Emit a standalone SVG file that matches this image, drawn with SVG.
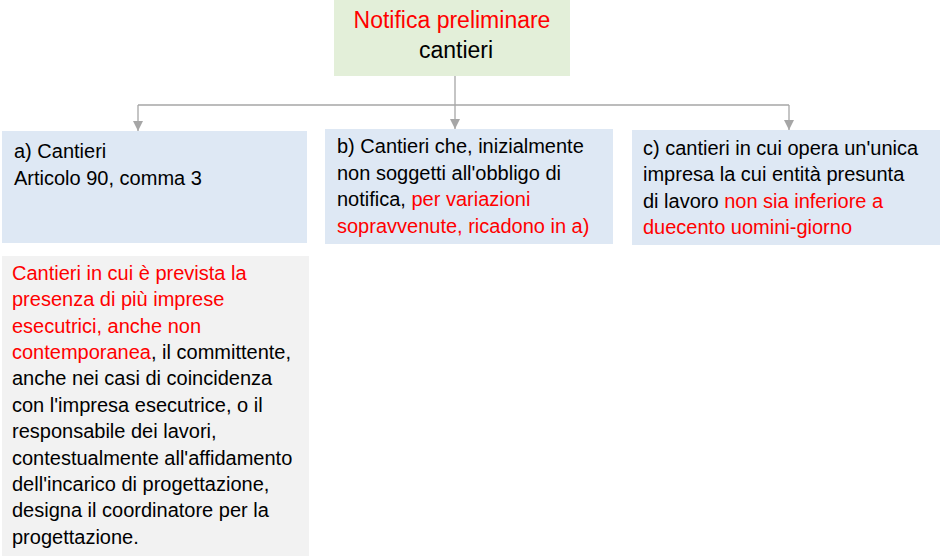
<svg xmlns="http://www.w3.org/2000/svg" width="943" height="558" viewBox="0 0 943 558">
<defs>
<marker id="arr" viewBox="0 0 10 10" refX="10" refY="5" markerWidth="10" markerHeight="10" markerUnits="userSpaceOnUse" orient="auto">
<path d="M0,0 L10,5 L0,10 z" fill="#a6a6a6"/>
</marker>
</defs>
<style>
text{font-family:"Liberation Sans",Arial,sans-serif;font-size:20px;fill:#000}
.r{fill:#ff0000}
.blue{fill:#dee8f4}
.green{fill:#e3efd9}
.grey{fill:#f2f2f2}
.ln{stroke:#a6a6a6;stroke-width:1.3;fill:none}
</style>
<rect width="943" height="558" fill="#fff"/>
<g id="connectors">
<path class="ln" d="M455,76 V105"/>
<path class="ln" d="M138,105 H789"/>
<path class="ln" d="M138,105 V131" marker-end="url(#arr)"/>
<path class="ln" d="M455,105 V129" marker-end="url(#arr)"/>
<path class="ln" d="M789,105 V130" marker-end="url(#arr)"/>
</g>
<g id="top">
<rect class="green" x="334" y="0" width="236" height="76"/>
<text x="452" y="28" text-anchor="middle" class="r" style="font-size:23px">Notifica preliminare</text>
<text x="456" y="58" text-anchor="middle" style="font-size:23px">cantieri</text>
</g>
<g id="a">
<rect class="blue" x="2" y="131" width="305" height="112"/>
<text x="14" y="158">a) Cantieri</text>
<text x="14" y="185">Articolo 90, comma 3</text>
</g>
<g id="b">
<rect class="blue" x="325" y="129" width="288" height="115"/>
<text x="337" y="153">b) Cantieri che, inizialmente</text>
<text x="337" y="180">non soggetti all'obbligo di</text>
<text x="337" y="206">notifica, <tspan class="r">per variazioni</tspan></text>
<text x="337" y="233" class="r">sopravvenute, ricadono in a)</text>
</g>
<g id="c">
<rect class="blue" x="632" y="130" width="308" height="115"/>
<text x="643" y="155">c) cantieri in cui opera un'unica</text>
<text x="643" y="181">impresa la cui entità presunta</text>
<text x="643" y="208">di lavoro <tspan class="r">non sia inferiore a</tspan></text>
<text x="643" y="234" class="r">duecento uomini-giorno</text>
</g>
<g id="d">
<rect class="grey" x="2" y="256" width="307" height="300"/>
<text x="12" y="280" class="r">Cantieri in cui è prevista la</text>
<text x="12" y="306" class="r">presenza di più imprese</text>
<text x="12" y="333" class="r">esecutrici, anche non</text>
<text x="12" y="359"><tspan class="r">contemporanea</tspan>, il committente,</text>
<text x="12" y="385">anche nei casi di coincidenza</text>
<text x="12" y="412">con l'impresa esecutrice, o il</text>
<text x="12" y="438">responsabile dei lavori,</text>
<text x="12" y="465">contestualmente all'affidamento</text>
<text x="12" y="491">dell'incarico di progettazione,</text>
<text x="12" y="517">designa il coordinatore per la</text>
<text x="12" y="544">progettazione.</text>
</g>
</svg>
